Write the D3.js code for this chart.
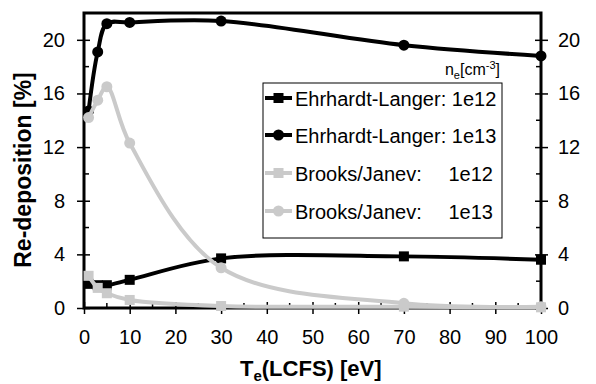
<!DOCTYPE html>
<html>
<head>
<meta charset="utf-8">
<script src="https://cdn.jsdelivr.net/npm/d3@7"></script>
<style>
  body { margin: 0; background: #fff; }
  text { font-family: "Liberation Sans", Arial, Helvetica, sans-serif; fill: #000; }
</style>
</head>
<body>
<div id="chart"></div>
<script>
// data
var te = [1, 3, 5, 10, 30, 70, 100];
var elLow = [1.8, 1.7, 1.7, 2.1, 3.7, 3.85, 3.6];
var elHigh = [14.7, 19.1, 21.2, 21.3, 21.4, 19.6, 18.8];
var bjLow = [2.4, 1.5, 1.1, 0.6, 0.15, 0.1, 0.05];
var bjHigh = [14.2, 15.5, 16.5, 12.3, 3.0, 0.35, 0.1];
var seriesNames = ["Ehrhardt-Langer: 1e12", "Ehrhardt-Langer: 1e13", "Brooks/Janev:", "Brooks/Janev:"];
var seriesDens = ["", "", "1e12", "1e13"];
var xTicks = [0, 10, 20, 30, 40, 50, 60, 70, 80, 90, 100];
var yTicks = [0, 4, 8, 12, 16, 20];

var svgWidth = 596;
var svgHeight = 384;
var black = "#000";
var grey = "#cacaca";

var series = [
  { vals: elLow, color: black, marker: "square" },
  { vals: elHigh, color: black, marker: "circle" },
  { vals: bjLow, color: grey, marker: "square" },
  { vals: bjHigh, color: grey, marker: "circle" }
];

var svg = d3.select("#chart")
  .append("svg")
  .attr("width", svgWidth)
  .attr("height", svgHeight);

var x = d3.scaleLinear().domain([0, 100]).range([84, 541]);
var y = d3.scaleLinear().domain([0, 22]).range([308, 13]);

// minor ticks (inside only)
var minorX = d3.range(5, 100, 10);
var minorY = d3.range(2, 22, 4);
svg.append("g").selectAll("line")
  .data(minorX).enter().append("line")
  .attr("x1", d => x(d)).attr("x2", d => x(d))
  .attr("y1", y(0)).attr("y2", y(0) - 5)
  .attr("stroke", black).attr("stroke-width", 1.5);
svg.append("g").selectAll("line")
  .data(minorY).enter().append("line")
  .attr("x1", x(0)).attr("x2", x(0) + 5)
  .attr("y1", d => y(d)).attr("y2", d => y(d))
  .attr("stroke", black).attr("stroke-width", 1.5);
svg.append("g").selectAll("line")
  .data(minorY).enter().append("line")
  .attr("x1", x(100)).attr("x2", x(100) - 5)
  .attr("y1", d => y(d)).attr("y2", d => y(d))
  .attr("stroke", black).attr("stroke-width", 1.5);

// major ticks cross the axis
function styleAxis(g) {
  g.select(".domain").remove();
  g.selectAll(".tick line").attr("stroke", black).attr("stroke-width", 1.5);
  g.selectAll(".tick text").style("font-size", "20px").style("font-family", "Liberation Sans, Arial, sans-serif");
}

var bottomAxis = d3.axisBottom(x).tickValues(xTicks).tickSize(6).tickPadding(16);
var gx = svg.append("g").attr("transform", `translate(0, ${y(0)})`).call(bottomAxis);
styleAxis(gx);
gx.selectAll(".tick line").attr("y1", -6);

var leftAxis = d3.axisLeft(y).tickValues(yTicks).tickSize(7).tickPadding(12);
var gl = svg.append("g").attr("transform", `translate(${x(0)}, 0)`).call(leftAxis);
styleAxis(gl);
gl.selectAll(".tick line").attr("x1", 6);

var rightAxis = d3.axisRight(y).tickValues(yTicks).tickSize(7).tickPadding(10);
var gr = svg.append("g").attr("transform", `translate(${x(100)}, 0)`).call(rightAxis);
styleAxis(gr);
gr.selectAll(".tick line").attr("x1", -6);

// frame
svg.append("rect")
  .attr("x", x(0)).attr("y", y(22))
  .attr("width", x(100) - x(0)).attr("height", y(0) - y(22))
  .attr("fill", "none").attr("stroke", black).attr("stroke-width", 3);

// series lines and markers
var line = d3.line()
  .x((d, i) => x(te[i]))
  .y(d => y(d))
  .curve(d3.curveCatmullRom.alpha(0.5));

series.forEach(function(s) {
  svg.append("path")
    .datum(s.vals)
    .attr("d", line)
    .attr("fill", "none")
    .attr("stroke", s.color)
    .attr("stroke-width", 4);

  var pts = svg.append("g").selectAll(".pt").data(s.vals).enter();
  if (s.marker === "circle") {
    pts.append("circle")
      .attr("cx", (d, i) => x(te[i]))
      .attr("cy", d => y(d))
      .attr("r", 5.5)
      .attr("fill", s.color);
  } else {
    pts.append("rect")
      .attr("x", (d, i) => x(te[i]) - 5)
      .attr("y", d => y(d) - 5)
      .attr("width", 10).attr("height", 10)
      .attr("fill", s.color);
  }
});

// legend
var legend = svg.append("g");
legend.append("rect")
  .attr("x", 263).attr("y", 83)
  .attr("width", 239).attr("height", 155)
  .attr("fill", "#fff").attr("stroke", black).attr("stroke-width", 1);

var neLabel = legend.append("text")
  .attr("x", 500).attr("y", 75)
  .attr("text-anchor", "end")
  .style("font-size", "16px");
neLabel.append("tspan").text("n");
neLabel.append("tspan").attr("dy", 4).style("font-size", "11px").text("e");
neLabel.append("tspan").attr("dy", -4).text("[cm");
neLabel.append("tspan").attr("dy", -6).style("font-size", "11px").text("-3");
neLabel.append("tspan").attr("dy", 6).text("]");

var rowY = [98, 135, 173, 211];
series.forEach(function(s, i) {
  var ly = rowY[i];
  legend.append("line")
    .attr("x1", 265).attr("x2", 292)
    .attr("y1", ly).attr("y2", ly)
    .attr("stroke", s.color).attr("stroke-width", 4);
  if (s.marker === "circle") {
    legend.append("circle").attr("cx", 278.5).attr("cy", ly).attr("r", 5.5).attr("fill", s.color);
  } else {
    legend.append("rect").attr("x", 273.5).attr("y", ly - 5).attr("width", 10).attr("height", 10).attr("fill", s.color);
  }
  legend.append("text")
    .attr("x", 295).attr("y", ly + 7.5)
    .style("font-size", "20px")
    .text(seriesNames[i]);
  if (seriesDens[i]) {
    legend.append("text")
      .attr("x", 493).attr("y", ly + 7.5)
      .attr("text-anchor", "end")
      .style("font-size", "20px")
      .text(seriesDens[i]);
  }
});

// axis titles
var xTitle = svg.append("text")
  .attr("x", 240).attr("y", 376)
  .attr("font-weight", "bold")
  .style("font-size", "22px");
xTitle.append("tspan").text("T");
xTitle.append("tspan").attr("dy", 5).style("font-size", "15px").text("e");
xTitle.append("tspan").attr("dy", -5).text("(LCFS) [eV]");

svg.append("text")
  .attr("transform", "translate(31, 170) rotate(-90)")
  .attr("text-anchor", "middle")
  .attr("font-weight", "bold")
  .style("font-size", "23px")
  .text("Re-deposition [%]");
</script>
</body>
</html>
